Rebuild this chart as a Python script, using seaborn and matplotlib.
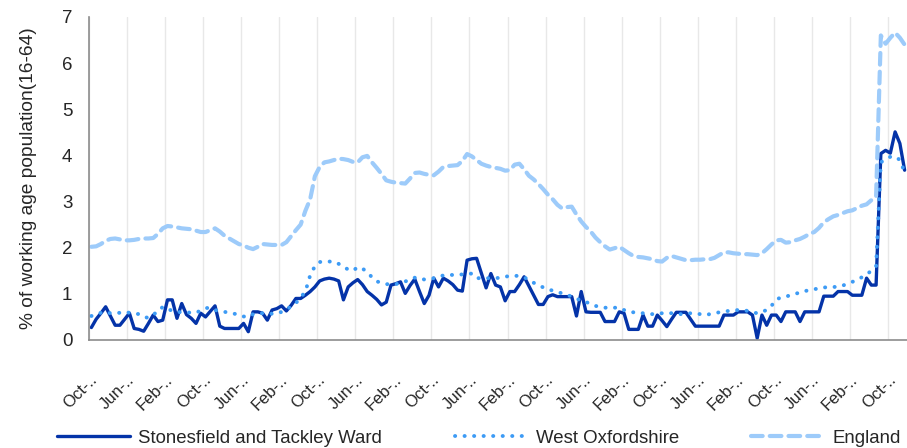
import matplotlib

matplotlib.use("Agg")

import matplotlib.pyplot as plt
import numpy as np
import pandas as pd
import seaborn as sns

# claimant rate, % of working age population (16-64), one value per month
ward = [
    0.27, 0.45, 0.58, 0.72, 0.52, 0.32, 0.32, 0.45,
    0.58, 0.25, 0.23, 0.19, 0.36, 0.54, 0.40, 0.43,
    0.87, 0.87, 0.47, 0.79, 0.55, 0.47, 0.36, 0.58,
    0.50, 0.62, 0.74, 0.30, 0.25, 0.25, 0.25, 0.25,
    0.36, 0.18, 0.61, 0.61, 0.58, 0.43, 0.65, 0.68,
    0.74, 0.63, 0.75, 0.90, 0.90, 0.97, 1.05, 1.15,
    1.28, 1.32, 1.34, 1.32, 1.28, 0.87, 1.15, 1.24,
    1.31, 1.20, 1.05, 0.97, 0.88, 0.76, 0.82, 1.19,
    1.22, 1.26, 1.01, 1.18, 1.32, 1.05, 0.79, 0.97,
    1.34, 1.15, 1.34, 1.28, 1.20, 1.08, 1.06, 1.73,
    1.76, 1.77, 1.45, 1.13, 1.44, 1.19, 1.15, 0.85,
    1.05, 1.05, 1.20, 1.37, 1.17, 0.97, 0.77, 0.77,
    0.94, 0.98, 0.94, 0.94, 0.94, 0.94, 0.52, 1.05,
    0.61, 0.60, 0.60, 0.60, 0.40, 0.40, 0.40, 0.61,
    0.58, 0.23, 0.23, 0.23, 0.54, 0.30, 0.30, 0.54,
    0.42, 0.29, 0.45, 0.60, 0.60, 0.60, 0.45, 0.30,
    0.30, 0.30, 0.30, 0.30, 0.30, 0.54, 0.54, 0.54,
    0.61, 0.61, 0.61, 0.54, 0.04, 0.54, 0.32, 0.54,
    0.54, 0.40, 0.61, 0.61, 0.61, 0.40, 0.61, 0.61,
    0.61, 0.61, 0.95, 0.95, 0.95, 1.05, 1.05, 1.05,
    0.97, 0.97, 0.97, 1.34, 1.19, 1.19, 4.04, 4.11,
    4.05, 4.51, 4.26, 3.68,
]
west_oxon = [
    0.52, 0.55, 0.59, 0.61, 0.58, 0.58, 0.59, 0.61,
    0.59, 0.58, 0.56, 0.50, 0.48, 0.56, 0.60, 0.72,
    0.68, 0.63, 0.61, 0.60, 0.60, 0.59, 0.59, 0.64,
    0.69, 0.70, 0.65, 0.62, 0.61, 0.59, 0.57, 0.55,
    0.51, 0.50, 0.56, 0.58, 0.58, 0.57, 0.57, 0.57,
    0.61, 0.67, 0.72, 0.80, 0.92, 1.05, 1.40, 1.60,
    1.69, 1.70, 1.70, 1.70, 1.65, 1.58, 1.53, 1.50,
    1.58, 1.55, 1.47, 1.36, 1.27, 1.24, 1.21, 1.21,
    1.21, 1.24, 1.27, 1.30, 1.35, 1.35, 1.31, 1.32,
    1.34, 1.37, 1.40, 1.41, 1.41, 1.42, 1.42, 1.43,
    1.44, 1.34, 1.34, 1.34, 1.34, 1.34, 1.35, 1.37,
    1.39, 1.39, 1.39, 1.36, 1.30, 1.24, 1.19, 1.14,
    1.10, 1.07, 1.04, 1.01, 0.98, 0.94, 0.90, 0.85,
    0.82, 0.79, 0.74, 0.71, 0.70, 0.70, 0.70, 0.70,
    0.65, 0.61, 0.60, 0.59, 0.58, 0.57, 0.56, 0.57,
    0.58, 0.59, 0.58, 0.57, 0.56, 0.57, 0.58, 0.58,
    0.56, 0.54, 0.56, 0.58, 0.60, 0.62, 0.63, 0.64,
    0.65, 0.65, 0.63, 0.60, 0.58, 0.61, 0.65, 0.74,
    0.88, 0.92, 0.94, 0.97, 1.00, 1.03, 1.06, 1.08,
    1.10, 1.12, 1.14, 1.14, 1.15, 1.15, 1.18, 1.22,
    1.26, 1.30, 1.36, 1.42, 1.50, 1.60, 3.85, 3.92,
    3.97, 3.98, 3.90, 3.64,
]
england = [
    2.02, 2.03, 2.08, 2.15, 2.19, 2.20, 2.18, 2.16,
    2.16, 2.17, 2.19, 2.20, 2.20, 2.21, 2.30, 2.42,
    2.47, 2.46, 2.44, 2.42, 2.41, 2.40, 2.37, 2.34,
    2.34, 2.38, 2.42, 2.35, 2.26, 2.20, 2.14, 2.08,
    2.05, 2.00, 1.97, 2.02, 2.08, 2.07, 2.06, 2.06,
    2.06, 2.12, 2.25, 2.38, 2.50, 2.80, 3.05, 3.55,
    3.75, 3.85, 3.87, 3.90, 3.93, 3.92, 3.90, 3.86,
    3.85, 3.96, 3.99, 3.85, 3.73, 3.60, 3.46, 3.43,
    3.41, 3.40, 3.39, 3.50, 3.62, 3.63, 3.60, 3.58,
    3.57, 3.65, 3.75, 3.77, 3.78, 3.79, 3.88, 4.03,
    3.98, 3.90, 3.82, 3.78, 3.75, 3.73, 3.71, 3.67,
    3.68, 3.80, 3.82, 3.70, 3.56, 3.48, 3.38, 3.27,
    3.15, 3.05, 2.93, 2.85, 2.88, 2.89, 2.72, 2.57,
    2.45, 2.35, 2.22, 2.12, 2.03, 1.96, 1.99, 2.02,
    1.95, 1.88, 1.82, 1.80, 1.79, 1.77, 1.75, 1.71,
    1.70, 1.78, 1.82, 1.79, 1.76, 1.73, 1.73, 1.74,
    1.74, 1.75, 1.75, 1.78, 1.84, 1.90, 1.90, 1.88,
    1.87, 1.86, 1.86, 1.85, 1.84, 1.88, 1.97, 2.07,
    2.16, 2.17, 2.11, 2.12, 2.16, 2.19, 2.24, 2.30,
    2.34, 2.43, 2.55, 2.62, 2.68, 2.71, 2.75, 2.79,
    2.81, 2.86, 2.91, 2.94, 3.03, 3.10, 6.60, 6.42,
    6.55, 6.66, 6.55, 6.40,
]
tick_labels = ["Oct-..", "Jun-..", "Feb-.."] * 7 + ["Oct-.."]

series_names = ["Stonesfield and Tackley Ward", "West Oxfordshire", "England"]

n = len(england)
df = pd.DataFrame({
    "month": np.arange(n),
    series_names[0]: ward,
    series_names[1]: west_oxon,
    series_names[2]: england,
})

sns.set_style("white")
plt.rcParams["font.family"] = ["Liberation Sans", "DejaVu Sans"]

fig = plt.figure(figsize=(9.07, 4.48), dpi=100)
ax = fig.add_axes([89 / 907, 1 - 340 / 448, 818 / 907, 323 / 448])

styles = {
    series_names[0]: dict(color="#0433A8", linewidth=2.4, linestyle="-"),
    series_names[1]: dict(color="#3D9BF5", linewidth=2.8, linestyle=(0, (0.05, 2.4)),
                          dash_capstyle="round"),
    series_names[2]: dict(color="#9DCBFA", linewidth=3.0, linestyle=(0, (2.8, 1.7)),
                          dash_capstyle="round"),
}
for name in series_names:
    sns.lineplot(data=df, x="month", y=name, ax=ax, label=name, **styles[name])

ax.set_xlim(-0.5, n - 0.5)
ax.set_ylim(0, 7)
ax.set_yticks(range(8))
ticks = np.arange(len(tick_labels)) * 8 - 0.5
ax.set_xticks(ticks)
ax.set_xticklabels(tick_labels, rotation=45, ha="right", va="top",
                   rotation_mode="anchor", fontsize=12)
ax.tick_params(axis="x", length=4, color="#8c8c8c", pad=19)
ax.tick_params(axis="y", length=5, color="#8c8c8c", pad=7, labelsize=13.5)
ax.xaxis.grid(True, color="#e8e8e8", linewidth=1)
ax.yaxis.grid(False)

for side in ["top", "right"]:
    ax.spines[side].set_visible(False)
for side in ["left", "bottom"]:
    ax.spines[side].set_color("#8c8c8c")
    ax.spines[side].set_linewidth(1.2)

ax.set_xlabel("")
ax.set_ylabel("% of working age population(16-64)", fontsize=13.8)
ax.yaxis.set_label_coords(-0.063, 0.5)

ax.legend(
    loc="center",
    bbox_to_anchor=(479 / 907, 1 - 438 / 448),
    bbox_transform=fig.transFigure,
    ncol=3,
    frameon=False,
    fontsize=13.4,
    handlelength=3.9,
    handletextpad=0.45,
    columnspacing=3.9,
)

fig.savefig("out.png", dpi=100)
